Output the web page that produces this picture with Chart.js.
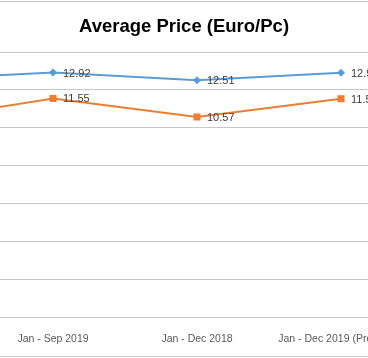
<!DOCTYPE html>
<html>
<head>
<meta charset="utf-8">
<script src="https://cdn.jsdelivr.net/npm/chart.js@4/dist/chart.umd.min.js"></script>
<style>
    html, body { margin: 0; padding: 0; background: #fff; overflow: hidden; }
    body { width: 368px; height: 358px; position: relative; }
    #frame {
        position: absolute;
        left: -230px;
        top: 1px;
        width: 828px;
        height: 356px;
        box-sizing: border-box;
        border: 1px solid #c8c8c8;
        overflow: hidden;
    }
    #frame canvas { display: block; }
</style>
</head>
<body>
<div id="frame"><canvas id="chart" width="826" height="358"></canvas></div>
<script>
// данные графика
const periods = ['Jan - Sep 2018', 'Jan - Sep 2019', 'Jan - Dec 2018', 'Jan - Dec 2019 (Projected)'];
const bluePrices = [12.54, 12.92, 12.51, 12.91];
const orangePrices = [10.34, 11.55, 10.57, 11.53];
const yTicks = [0, 2, 4, 6, 8, 10, 12, 14];
const chartTitle = 'Average Price (Euro/Pc)';

const fontFamily = '"Liberation Sans", Arial, sans-serif';

// заголовок по центру всей области графика
const centeredTitle = {
    id: 'centeredTitle',
    afterDraw(chart) {
        const ctx = chart.ctx;
        ctx.save();
        ctx.font = 'bold 18.5px ' + fontFamily;
        ctx.fillStyle = '#000';
        ctx.textAlign = 'center';
        ctx.textBaseline = 'middle';
        ctx.fillText(chartTitle, chart.width / 2, 25);
        ctx.restore();
    }
};

// подписи значений справа от точек
const valueLabels = {
    id: 'valueLabels',
    afterDatasetsDraw(chart) {
        const ctx = chart.ctx;
        ctx.save();
        ctx.font = '11px ' + fontFamily;
        ctx.fillStyle = '#404040';
        ctx.textAlign = 'left';
        ctx.textBaseline = 'middle';
        chart.data.datasets.forEach((ds, i) => {
            chart.getDatasetMeta(i).data.forEach((pt, j) => {
                ctx.fillText(ds.data[j].toFixed(2), pt.x + 10, pt.y + 1);
            });
        });
        ctx.restore();
    }
};

function createChartConfig() {
    return {
        type: 'line',
        data: {
            labels: periods,
            datasets: [
                {
                    label: 'Series 1',
                    data: bluePrices,
                    borderColor: '#5b9bd5',
                    backgroundColor: '#5b9bd5',
                    borderWidth: 2,
                    pointStyle: 'rectRot',
                    pointRadius: 4,
                    pointBorderWidth: 0,
                    tension: 0
                },
                {
                    label: 'Series 2',
                    data: orangePrices,
                    borderColor: '#ed7d31',
                    backgroundColor: '#ed7d31',
                    borderWidth: 2,
                    pointStyle: 'rect',
                    pointRadius: 5,
                    pointBorderWidth: 0,
                    tension: 0
                }
            ]
        },
        options: {
            responsive: false,
            animation: false,
            layout: {
                padding: { left: 26, right: 184, top: 50, bottom: 0 }
            },
            plugins: {
                legend: { display: false },
                tooltip: { enabled: false },
                title: { display: false }
            },
            scales: {
                x: {
                    offset: true,
                    grid: { display: false, drawTicks: false },
                    border: { display: true, color: '#c8c8c8', width: 1 },
                    ticks: {
                        color: '#595959',
                        padding: 15,
                        maxRotation: 0,
                        autoSkip: false,
                        font: { family: fontFamily, size: 10.5 }
                    }
                },
                y: {
                    min: yTicks[0],
                    max: yTicks[yTicks.length - 1],
                    afterBuildTicks: (axis) => { axis.ticks = yTicks.map(v => ({ value: v })); },
                    afterFit: (axis) => { axis.width = 40; },
                    grid: { color: '#c8c8c8', drawTicks: false },
                    border: { display: false },
                    ticks: {
                        color: '#595959',
                        padding: 8,
                        font: { family: fontFamily, size: 10.5 }
                    }
                }
            }
        },
        plugins: [valueLabels, centeredTitle]
    };
}

new Chart(document.getElementById('chart'), createChartConfig());
</script>
</body>
</html>
